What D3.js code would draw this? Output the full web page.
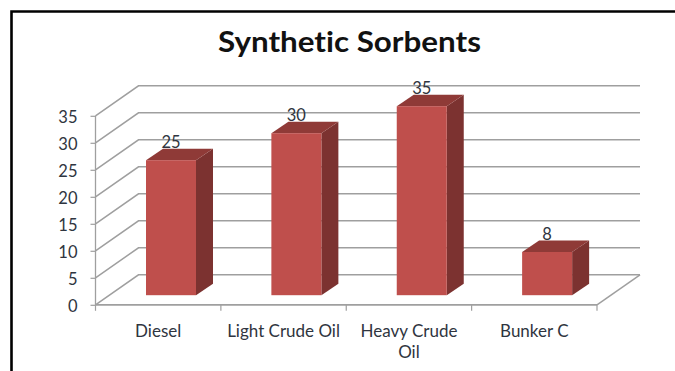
<!DOCTYPE html>
<html>
<head>
<meta charset="utf-8">
<script src="https://cdn.jsdelivr.net/npm/d3@7/dist/d3.min.js"></script>
<style>
  html, body { margin: 0; padding: 0; background: #fff; }
  svg { display: block; }
  text { font-family: Lato, "Open Sans", sans-serif; font-variant-ligatures: none; }
</style>
</head>
<body>
<svg id="chart" width="675" height="371"></svg>
<script>
const chartTitle = "Synthetic Sorbents";
const categories = ["Diesel", "Light Crude Oil", "Heavy Crude Oil", "Bunker C"];
const categoryLines = [["Diesel"], ["Light Crude Oil"], ["Heavy Crude", "Oil"], ["Bunker C"]];
const values = [25, 30, 35, 8];
const yTicks = [0, 5, 10, 15, 20, 25, 30, 35];

const svg = d3.select("#chart");

// Front plane of the 3D plot box
const x = d3.scaleBand().domain(categories).range([95.5, 597]);
const y = d3.scaleLinear().domain([0, 35]).range([304.8, 115.8]);

// Oblique offset of the back wall and of each column
const wallDx = 43, wallDy = -30;
const barDx = 17, barDy = -11.5;
const barWidth = 50, barInset = 50.5, barLift = 9.6;

const gridColor = "#9f9f9f";
const textColor = "#2f3540";

// Outer frame, open on the right and bottom
svg.append("path")
  .attr("d", "M11.5,371V11.5H675")
  .attr("fill", "none").attr("stroke", "#000").attr("stroke-width", 2.6);

svg.append("text")
  .attr("x", 349.5).attr("y", 52)
  .attr("text-anchor", "middle")
  .attr("font-size", 29).attr("font-weight", 700)
  .attr("textLength", 263).attr("lengthAdjust", "spacingAndGlyphs")
  .attr("fill", "#111").text(chartTitle);

// Back wall gridlines and side wall diagonals
const grid = svg.append("g").attr("fill", "none").attr("stroke", gridColor);
grid.selectAll("path.wall").data(yTicks).join("path")
  .attr("class", "wall")
  .attr("stroke-width", 1.5)
  .attr("d", d => `M${x.range()[0]},${y(d)}L${x.range()[0] + wallDx},${y(d) + wallDy}L${x.range()[1] + wallDx},${y(d) + wallDy}`);

// Floor edge at the right
grid.append("path")
  .attr("stroke-width", 1.5)
  .attr("d", `M${x.range()[1]},${y(0)}L${x.range()[1] + wallDx},${y(0) + wallDy}`);

// Value axis
const yAxis = d3.axisLeft(y).tickValues(yTicks).tickSize(5).tickPadding(13);
const yG = svg.append("g").attr("transform", `translate(${x.range()[0]},0)`).call(yAxis);
yG.select(".domain").attr("stroke", gridColor).attr("stroke-width", 1.3).attr("d", `M0,${y(35)}V${y(0)}`);
yG.selectAll(".tick line").attr("stroke", gridColor).attr("stroke-width", 1.2);
yG.selectAll(".tick text").attr("font-size", 16.5).attr("fill", textColor)
  .attr("dy", "0.4em").style("font-family", 'Lato, "Open Sans", sans-serif');

// Category axis with ticks on the band edges
const edges = categories.map(c => x(c)).concat(x.range()[1]);
const xG = svg.append("g");
xG.append("line")
  .attr("x1", x.range()[0]).attr("x2", x.range()[1])
  .attr("y1", y(0)).attr("y2", y(0))
  .attr("stroke", gridColor).attr("stroke-width", 1.8);
xG.selectAll("line.tick").data(edges).join("line")
  .attr("class", "tick")
  .attr("x1", d => d).attr("x2", d => d)
  .attr("y1", y(0)).attr("y2", y(0) + 6)
  .attr("stroke", gridColor).attr("stroke-width", 1.2);

const labels = xG.selectAll("text").data(categories).join("text")
  .attr("text-anchor", "middle")
  .attr("font-size", 17).attr("fill", textColor);
labels.selectAll("tspan").data((d, i) => categoryLines[i].map(t => ({ t, c: d }))).join("tspan")
  .attr("x", d => x(d.c) + x.bandwidth() / 2)
  .attr("y", (d, i) => 337 + i * 21)
  .text(d => d.t);

// Columns: front face, side face, top face
const bars = svg.append("g").selectAll("g").data(categories.map((c, i) => ({ c, v: values[i] }))).join("g");
const barLeft = d => x(d.c) + barInset;
const barTop = d => y(d.v) - barLift;
const barBottom = () => y(0) - barLift;

bars.append("path").attr("fill", "#7c3230")
  .attr("d", d => `M${barLeft(d) + barWidth},${barTop(d)}l${barDx},${barDy}V${barBottom() + barDy}L${barLeft(d) + barWidth},${barBottom()}Z`);
bars.append("path").attr("fill", "#8f3a37")
  .attr("d", d => `M${barLeft(d)},${barTop(d)}l${barDx},${barDy}h${barWidth}l${-barDx},${-barDy}Z`);
bars.append("rect").attr("fill", "#bf4f4c")
  .attr("x", barLeft).attr("y", barTop)
  .attr("width", barWidth).attr("height", d => barBottom() - barTop(d));

// Value labels sit just above each column's top face
bars.append("text")
  .attr("x", d => barLeft(d) + barWidth / 2)
  .attr("y", d => barTop(d) + barDy - 0.5)
  .attr("text-anchor", "middle")
  .attr("font-size", 16.5).attr("fill", textColor)
  .text(d => d.v);
</script>
</body>
</html>
